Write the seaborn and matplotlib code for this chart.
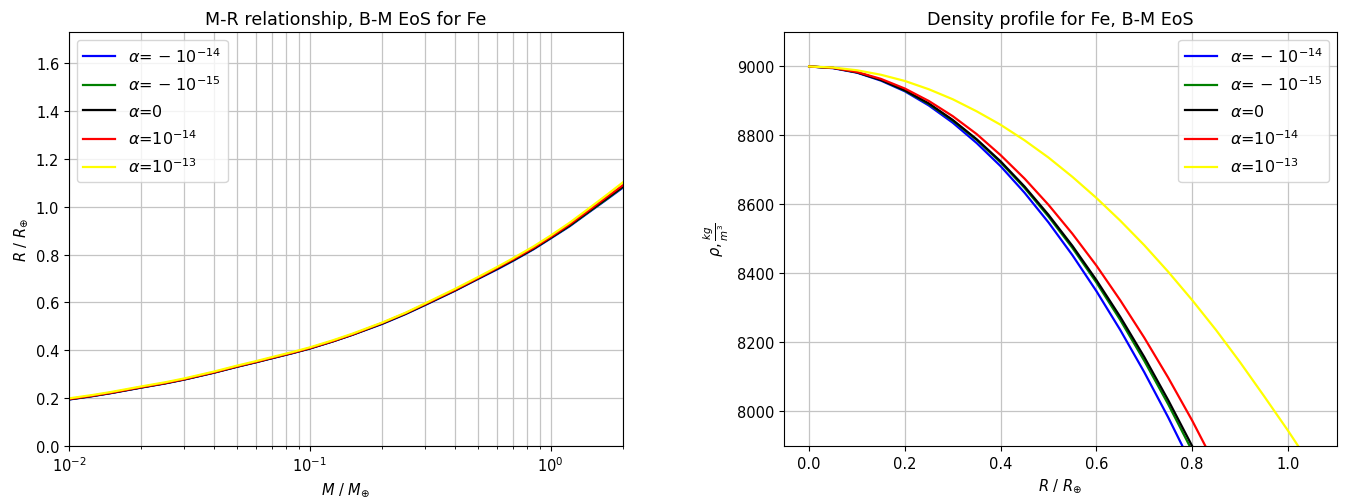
import matplotlib
matplotlib.use("Agg")
import matplotlib.pyplot as plt
import seaborn as sns
import pandas as pd

# ---------------- data ----------------
labels = [r'$\alpha$= − $10^{-14}$', r'$\alpha$= − $10^{-15}$', r'$\alpha$=0',
          r'$\alpha$=$10^{-14}$', r'$\alpha$=$10^{-13}$']
colors = ['blue', 'green', 'black', 'red', 'yellow']

# Left panel: mass-radius relation
mass = [0.01, 0.0125, 0.015, 0.02, 0.025, 0.03, 0.04, 0.05, 0.06, 0.07, 0.085, 0.1, 0.125, 0.15,
        0.2, 0.25, 0.3, 0.4, 0.5, 0.6, 0.7, 0.85, 1.0, 1.2, 1.4, 1.7, 2.0]
r_blue   = [0.194, 0.208, 0.221, 0.244, 0.261, 0.277, 0.306, 0.331, 0.350, 0.367, 0.388, 0.407, 0.437, 0.464,
            0.510, 0.551, 0.588, 0.648, 0.698, 0.738, 0.774, 0.822, 0.867, 0.918, 0.967, 1.028, 1.080]
r_green  = [0.195, 0.209, 0.222, 0.245, 0.262, 0.278, 0.307, 0.332, 0.351, 0.368, 0.389, 0.408, 0.438, 0.465,
            0.512, 0.553, 0.590, 0.650, 0.700, 0.741, 0.776, 0.824, 0.869, 0.920, 0.969, 1.030, 1.083]
r_black  = [0.195, 0.209, 0.222, 0.245, 0.262, 0.278, 0.307, 0.332, 0.351, 0.368, 0.389, 0.408, 0.438, 0.465,
            0.512, 0.553, 0.590, 0.650, 0.700, 0.741, 0.777, 0.825, 0.870, 0.922, 0.971, 1.033, 1.085]
r_red    = [0.196, 0.210, 0.223, 0.246, 0.263, 0.279, 0.308, 0.333, 0.352, 0.369, 0.390, 0.409, 0.439, 0.466,
            0.514, 0.555, 0.592, 0.652, 0.702, 0.744, 0.780, 0.828, 0.873, 0.926, 0.975, 1.038, 1.090]
r_yellow = [0.199, 0.213, 0.226, 0.249, 0.266, 0.282, 0.311, 0.336, 0.355, 0.372, 0.393, 0.412, 0.442, 0.469,
            0.516, 0.557, 0.595, 0.656, 0.706, 0.748, 0.785, 0.834, 0.879, 0.933, 0.983, 1.047, 1.102]

# Right panel: density profiles
rad_blue   = [0.0, 0.05, 0.1, 0.15, 0.2, 0.25, 0.3, 0.35, 0.4, 0.45, 0.5, 0.55, 0.6, 0.65, 0.7, 0.75, 0.8]
rho_blue   = [9000, 8995, 8982, 8959, 8928, 8887, 8837, 8778, 8711, 8634, 8548, 8453, 8349, 8236, 8114, 7983, 7843]
rad_green  = [0.0, 0.05, 0.1, 0.15, 0.2, 0.25, 0.3, 0.35, 0.4, 0.45, 0.5, 0.55, 0.6, 0.65, 0.7, 0.75, 0.8]
rho_green  = [9000, 8996, 8983, 8961, 8930, 8891, 8843, 8787, 8722, 8648, 8565, 8474, 8374, 8265, 8147, 8021, 7886]
rad_black  = [0.0, 0.05, 0.1, 0.15, 0.2, 0.25, 0.3, 0.35, 0.4, 0.45, 0.5, 0.55, 0.6, 0.65, 0.7, 0.75, 0.8, 0.82]
rho_black  = [9000, 8996, 8983, 8961, 8931, 8893, 8845, 8789, 8725, 8652, 8570, 8480, 8381, 8274, 8158, 8033, 7900, 7844]
rad_red    = [0.0, 0.05, 0.1, 0.15, 0.2, 0.25, 0.3, 0.35, 0.4, 0.45, 0.5, 0.55, 0.6, 0.65, 0.7, 0.75, 0.8, 0.85]
rho_red    = [9000, 8996, 8984, 8964, 8936, 8900, 8856, 8804, 8743, 8675, 8599, 8515, 8423, 8322, 8214, 8098, 7974, 7840]
rad_yellow = [0.0, 0.05, 0.1, 0.15, 0.2, 0.25, 0.3, 0.35, 0.4, 0.45, 0.5, 0.55, 0.6, 0.65, 0.7, 0.75, 0.8,
              0.85, 0.9, 0.95, 1.0, 1.05]
rho_yellow = [9000, 8997, 8989, 8976, 8958, 8934, 8905, 8870, 8831, 8786, 8736, 8680, 8619, 8553, 8482, 8405, 8323,
              8236, 8143, 8045, 7945, 7840]

# ---------------- plot ----------------
plt.rcParams['font.size'] = 10.5
fig = plt.figure(figsize=(13.48, 5.02), dpi=100)
ax1 = fig.add_axes([0.0512, 0.1096, 0.411, 0.8247])
ax2 = fig.add_axes([0.5816, 0.1096, 0.4102, 0.8247])

grid_kw = dict(color='#c4c4c4', linewidth=0.9)

left_series = [r_blue, r_green, r_black, r_red, r_yellow]
for lab, col, rr in zip(labels, colors, left_series):
    df = pd.DataFrame({'M': mass, 'R': rr})
    sns.lineplot(data=df, x='M', y='R', ax=ax1, color=col, label=lab,
                 linewidth=1.6, sort=False, estimator=None)
ax1.set_xscale('log')
ax1.set_xlim(0.01, 2.0)
ax1.set_ylim(0, 1.73)
ax1.grid(True, which='both', **grid_kw)
ax1.set_axisbelow(True)
ax1.set_title('M-R relationship, B-M EoS for Fe')
ax1.set_xlabel(r'$M$ / $M_{\oplus}$')
ax1.set_ylabel(r'$R$ / $R_{\oplus}$')
ax1.legend(loc='upper left', fontsize=11.5, labelspacing=0.6)

right_series = [(rad_blue, rho_blue), (rad_green, rho_green), (rad_black, rho_black),
                (rad_red, rho_red), (rad_yellow, rho_yellow)]
for lab, col, (xx, yy) in zip(labels, colors, right_series):
    df = pd.DataFrame({'r': xx, 'rho': yy})
    sns.lineplot(data=df, x='r', y='rho', ax=ax2, color=col, label=lab,
                 linewidth=1.6, sort=False, estimator=None)
ax2.set_xlim(-0.0525, 1.1025)
ax2.set_ylim(7900, 9100)
ax2.set_yticks([8000, 8200, 8400, 8600, 8800, 9000])
ax2.grid(True, **grid_kw)
ax2.set_axisbelow(True)
ax2.set_title('Density profile for Fe, B-M EoS')
ax2.set_xlabel(r'$R$ / $R_{\oplus}$')
ax2.set_ylabel(r'$\rho, \frac{kg}{m^3}$')
ax2.legend(loc='upper right', fontsize=11.5, labelspacing=0.6)

fig.savefig('out.png', dpi=100)
